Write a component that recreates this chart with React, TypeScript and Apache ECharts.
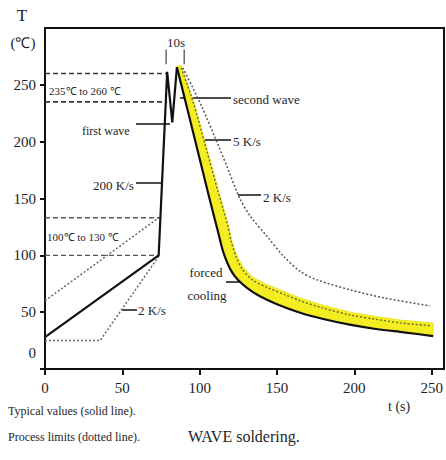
import React, { useEffect, useRef } from "react";
import * as echarts from "echarts";

// ---- axis settings / tick labels ----
const X_MIN = 0;
const X_MAX = 258;
const Y_MIN = 0;
const Y_MAX = 300;
const xTickValues = [0, 50, 100, 150, 200, 250];
const yTickValues = [0, 50, 100, 150, 200, 250];

// ---- typical profile (solid line) ----
const preheatSolid = [
  [0, 28],
  [73.5, 100],
  [79, 261.5],
  [82.3, 217],
  [85.3, 265.5],
];
const coolingSolid = [
  [85.3, 265.5],
  [92, 229],
  [100, 185],
  [106, 152],
  [112, 120],
  [115, 104],
  [118, 93],
  [121, 85],
  [125, 78],
  [131, 71],
  [139, 64],
  [150, 57],
  [165, 49.5],
  [180, 44],
  [197, 39],
  [215, 35],
  [232, 32.3],
  [251, 29],
];

// ---- forced cooling band (upper edge) ----
const coolingBandUpper = [
  [85.3, 266.5],
  [88, 267],
  [96, 236],
  [104.5, 195],
  [112, 158],
  [118.5, 127],
  [121, 112],
  [124, 100],
  [128, 90],
  [134, 81],
  [144, 74],
  [155, 68],
  [165, 62.5],
  [180, 56],
  [197.5, 50],
  [215, 46],
  [230, 43],
  [251, 40.5],
];
const coolingDotted = [
  [88, 265],
  [95.5, 236],
  [104, 195],
  [111.5, 158],
  [118, 127],
  [120.5, 112],
  [123.5, 99],
  [127.5, 88],
  [134, 78.5],
  [144, 71.5],
  [155, 65.5],
  [165, 60],
  [180, 53.5],
  [197.5, 47.5],
  [215, 43.5],
  [230, 40.5],
  [250, 38],
];

// ---- process limits (dotted lines) ----
const preheatUpperLimit = [
  [0, 60],
  [74, 133.5],
];
const preheatLowerLimit = [
  [0, 25],
  [35.6, 25],
  [74, 100],
];
const coolingSlowLimit = [
  [89, 265],
  [95, 249],
  [102, 229],
  [110, 203.5],
  [118, 177],
  [126, 150],
  [133, 134],
  [143.6, 116.6],
  [154.4, 99],
  [165.2, 85.7],
  [176, 78.4],
  [197.5, 69.6],
  [219, 62.6],
  [249, 55.5],
];

// ---- reference ranges (dashed) ----
const wave260 = [
  [0, 260],
  [79, 260],
];
const wave235 = [
  [0, 235],
  [79, 235],
];
const pre130 = [
  [0, 133],
  [74.5, 133],
];
const pre100 = [
  [0, 100],
  [73.5, 100],
];

// ---- 10 s marker ----
const tenSecLeft = [
  [78.3, 268],
  [78.3, 281],
];
const tenSecRight = [
  [90, 268],
  [90, 281],
];

const SERIF = "'Liberation Serif', 'Times New Roman', serif";
const TXT = "#1e1e2a";

function lineSeries(data: number[][], color: string, width: number, type: any, smooth: number | boolean = false, z = 3) {
  return {
    type: "line",
    data,
    showSymbol: false,
    symbol: "none",
    silent: true,
    smooth,
    z,
    lineStyle: { color, width, type },
  };
}

function txt(text: string, x: number, y: number, size: number, align = "left") {
  return {
    type: "text",
    x,
    y,
    silent: true,
    style: {
      text,
      fill: TXT,
      font: `${size}px ${SERIF}`,
      align,
      verticalAlign: "middle",
    },
  };
}

function leader(x1: number, y1: number, x2: number, y2: number) {
  return {
    type: "line",
    silent: true,
    shape: { x1, y1, x2, y2 },
    style: { stroke: "#111", lineWidth: 1.5 },
  };
}

export default function App() {
  const ref = useRef<HTMLDivElement>(null);

  useEffect(() => {
    if (!ref.current) return;
    const chart = echarts.init(ref.current, null, { renderer: "svg" });

    const option: any = {
      animation: false,
      backgroundColor: "#ffffff",
      grid: {
        left: 45,
        right: 2,
        top: 28,
        bottom: 91,
        show: true,
        borderColor: "#111",
        borderWidth: 2,
        backgroundColor: "transparent",
      },
      xAxis: {
        type: "value",
        min: X_MIN,
        max: X_MAX,
        interval: 50,
        splitLine: { show: false },
        axisLine: { show: true, lineStyle: { color: "#111", width: 2 } },
        axisTick: {
          show: true,
          inside: false,
          length: 6,
          customValues: xTickValues,
          lineStyle: { color: "#111", width: 2 },
        },
        axisLabel: {
          customValues: xTickValues,
          margin: 11,
          color: TXT,
          fontFamily: SERIF,
          fontSize: 15,
        },
      },
      yAxis: {
        type: "value",
        min: Y_MIN,
        max: Y_MAX,
        interval: 50,
        splitLine: { show: false },
        axisLine: { show: true, lineStyle: { color: "#111", width: 2 } },
        axisTick: {
          show: true,
          inside: false,
          length: 5,
          customValues: yTickValues,
          lineStyle: { color: "#111", width: 2 },
        },
        axisLabel: {
          customValues: yTickValues,
          margin: 9,
          color: TXT,
          fontFamily: SERIF,
          fontSize: 15,
          formatter: (v: number) => (v === 0 ? "{lift|0}" : String(v)),
          rich: {
            lift: {
              color: TXT,
              fontFamily: SERIF,
              fontSize: 15,
              padding: [0, 0, 32, 0],
            },
          },
        },
      },
      series: [
        {
          type: "custom",
          coordinateSystem: "cartesian2d",
          silent: true,
          z: 1,
          data: [[150, 100]],
          encode: { x: 0, y: 1 },
          renderItem: (_params: any, api: any) => {
            const pts = coolingBandUpper
              .map((p) => api.coord(p))
              .concat(coolingSolid.slice().reverse().map((p) => api.coord(p)));
            return {
              type: "polygon",
              shape: { points: pts, smooth: 0 },
              style: { fill: "#f4ed22", stroke: "#e9e21a", lineWidth: 0.8 },
            };
          },
        },
        lineSeries(wave260, "#3a3a3a", 1.6, [5, 3]),
        lineSeries(wave235, "#3a3a3a", 1.6, [5, 3]),
        lineSeries(pre130, "#555", 1.4, [5, 3]),
        lineSeries(pre100, "#555", 1.4, [5, 3]),
        lineSeries(preheatUpperLimit, "#666", 1.5, [2, 2]),
        lineSeries(preheatLowerLimit, "#666", 1.5, [2, 2]),
        lineSeries(coolingSlowLimit, "#555", 1.5, [2, 2], 0.3),
        lineSeries(coolingDotted, "#6a6a30", 1.4, [2, 2], 0.3, 4),
        lineSeries(tenSecLeft, "#444", 1.2, "solid"),
        lineSeries(tenSecRight, "#444", 1.2, "solid"),
        lineSeries(preheatSolid, "#111", 2.2, "solid", false, 5),
        lineSeries(coolingSolid, "#111", 2.2, "solid", 0.25, 5),
      ],
      graphic: [
        txt("T", 22, 15, 17, "center"),
        txt("(℃)", 23, 43, 15, "center"),
        txt("10s", 176, 42, 13, "center"),
        txt("235℃ to 260 ℃", 49, 91, 11),
        txt("first wave", 82, 131, 12),
        leader(136, 124, 170, 124),
        txt("200 K/s", 93, 185, 13),
        leader(136, 183, 162, 183),
        txt("second wave", 233, 99, 13),
        leader(180, 98, 231, 98),
        txt("5 K/s", 233, 141, 13),
        leader(202, 140, 231, 140),
        txt("2 K/s", 263, 197, 13),
        leader(238, 195, 261, 195),
        txt("100℃ to 130 ℃", 47, 237, 11),
        txt("2 K/s", 138, 310, 13),
        leader(122, 310, 137, 310),
        txt("forced", 206, 272, 13, "center"),
        txt("cooling", 207, 295, 13, "center"),
        leader(226, 282, 240, 282),
        txt("Typical values (solid line).", 8, 411, 12),
        txt("Process limits (dotted line).", 8, 437, 12),
        txt("WAVE soldering.", 188, 436, 16),
        txt("t (s)", 388, 406, 14),
      ],
    };

    chart.setOption(option);
    return () => {
      chart.dispose();
    };
  }, []);

  return (
    <div
      ref={ref}
      style={{ position: "absolute", left: 0, top: 0, width: 446, height: 460, background: "#fff" }}
    />
  );
}
